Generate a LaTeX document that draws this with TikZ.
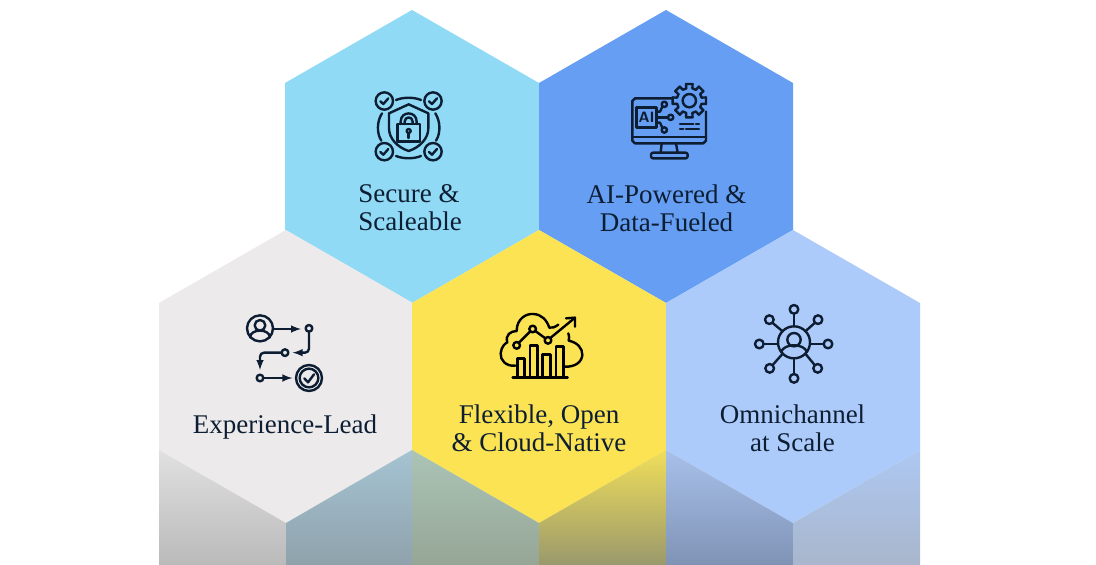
\documentclass[tikz,border=0pt]{standalone}
\usepackage{fontspec}
\setmainfont{Liberation Serif}
\usepackage{tikz}
\definecolor{hexsky}{HTML}{90DAF6}
\definecolor{hexblue}{HTML}{659EF2}
\definecolor{hexgray}{HTML}{ECEAEB}
\definecolor{hexyellow}{HTML}{FBE353}
\definecolor{hexpale}{HTML}{ADCBFA}
\definecolor{inknavy}{HTML}{0D1E33}
\tikzset{
  hexlabel/.style={text=inknavy, align=center, font=\fontsize{27}{28}\selectfont, inner sep=0pt},
  iconline/.style={line width=2.4pt, line cap=round, line join=round},
  tipline/.style={iconline, -latex}
}
\begin{document}
\begin{tikzpicture}[x=1pt, y=-1pt]
  \useasboundingbox (0,0) rectangle (1096,565);
  \fill[white] (0,0) rectangle (1096,565);

  % hexagons
  \foreach \cx/\cy/\col in {412/156.5/hexsky, 666/156.5/hexblue, 286/376.5/hexgray, 539/376.5/hexyellow, 793/376.5/hexpale} {
    \fill[\col] (\cx,\cy-146.5) -- (\cx+127,\cy-73.5) -- (\cx+127,\cy+73.5) -- (\cx,\cy+146.5) -- (\cx-127,\cy+73.5) -- (\cx-127,\cy-73.5) -- cycle;
  }

  % reflection strip
  \shade[top color=black!12, bottom color=black!27] (159,450) -- (286,523) -- (286,565) -- (159,565) -- cycle;
  \shade[top color={rgb,255:red,165;green,195;blue,210}, bottom color={rgb,255:red,143;green,162;blue,172}] (286,523) -- (412,450) -- (412,565) -- (286,565) -- cycle;
  \shade[top color={rgb,255:red,170;green,196;blue,182}, bottom color={rgb,255:red,150;green,166;blue,150}] (412,450) -- (539,523) -- (539,565) -- (412,565) -- cycle;
  \shade[top color={rgb,255:red,240;green,222;blue,90}, bottom color={rgb,255:red,154;green,153;blue,108}] (539,523) -- (666,450) -- (666,565) -- (539,565) -- cycle;
  \shade[top color={rgb,255:red,168;green,192;blue,234}, bottom color={rgb,255:red,127;green,147;blue,181}] (666,450) -- (793,523) -- (793,565) -- (666,565) -- cycle;
  \shade[top color={rgb,255:red,173;green,200;blue,242}, bottom color={rgb,255:red,169;green,182;blue,204}] (793,523) -- (920,450) -- (920,565) -- (793,565) -- cycle;

  % labels
  \node[hexlabel, align=left] (secure) at (410,208) {Secure \&\\Scaleable};
  \node[hexlabel] (aipowered) at (666.5,208) {AI-Powered \&\\Data-Fueled};
  \node[hexlabel] (experience) at (285,427) {Experience-Lead};
  \node[hexlabel] (flexible) at (539,428) {Flexible, Open\\\& Cloud-Native};
  \node[hexlabel] (omni) at (792.5,428) {Omnichannel\\at Scale};

  % lock icon
  \begin{scope}[shift={(340,70)}, scale=1/3, draw=inknavy]
    \foreach \px/\py in {133/93, 279/93, 133/245, 279/245} {
      \draw[iconline] (\px,\py) circle (26);
      \draw[iconline] (\px-12,\py+1) -- (\px-3,\py+9) -- (\px+12,\py-8);
    }
    \draw[iconline] (168,90) .. controls (190,81) and (222,81) .. (243,90);
    \draw[iconline] (168,258) .. controls (190,267) and (222,267) .. (243,258);
    \draw[iconline] (126,130) .. controls (110,155) and (110,190) .. (124,212);
    \draw[iconline] (286,130) .. controls (302,155) and (302,190) .. (288,212);
    \draw[iconline] (206,103) -- (265,130) -- (265,175) .. controls (265,205) and (240,232) .. (206,243) .. controls (172,232) and (147,205) .. (147,175) -- (147,130) -- cycle;
    \draw[iconline] (172,162) rectangle (240,215);
    \draw[iconline] (182,162) -- (182,155) .. controls (182,122) and (230,122) .. (230,155) -- (230,162);
    \draw[iconline] (194,162) -- (194,155) .. controls (194,138) and (218,138) .. (218,155) -- (218,162);
    \draw[iconline] (206,183) circle (6);
    \draw[iconline] (206,189) -- (206,204);
  \end{scope}

  % monitor icon
  \begin{scope}[shift={(610,70)}, scale=1/3, draw=inknavy]
    \draw[iconline] (186,85) -- (75,85) -- (67,93) -- (67,212) -- (75,220) -- (280,220) -- (288,212) -- (288,125);
    \draw[iconline] (67,201) -- (288,201);
    \draw[iconline] (155,220) -- (152,248) (198,220) -- (203,248);
    \draw[iconline, rounded corners=2pt] (123,248) rectangle (233,265);
    \draw[iconline] (80,112) rectangle (140,172);
    \node[text=inknavy, inner sep=0pt, font=\fontsize{15}{15}\selectfont\sffamily\bfseries] (ailabel) at (110,142) {AI};
    \draw[iconline] (140,125) -- (150,125) -- (157,110);
    \draw[iconline] (140,142) -- (174,142);
    \draw[iconline] (140,158) -- (150,158) -- (157,173);
    \draw[iconline] (163,103) circle (8) (182,142) circle (8) (163,180) circle (8);
    \foreach \ang in {0,45,...,315} {
      \draw[iconline] ({238+38*cos(\ang-14)},{92+38*sin(\ang-14)}) -- ({238+51*cos(\ang-11)},{92+51*sin(\ang-11)}) -- ({238+51*cos(\ang+11)},{92+51*sin(\ang+11)}) -- ({238+38*cos(\ang+14)},{92+38*sin(\ang+14)}) -- ({238+38*cos(\ang+31)},{92+38*sin(\ang+31)});
    }
    \draw[iconline] (238,92) circle (20);
    \draw[iconline] (210,162) -- (250,162) (258,162) -- (267,162);
    \draw[iconline] (210,177) -- (220,177) (228,177) -- (267,177);
  \end{scope}

  % journey icon
  \begin{scope}[shift={(230,305)}, scale=1/3, draw=inknavy]
    \draw[iconline] (90,70) circle (39);
    \draw[iconline] (90,61) circle (16);
    \draw[iconline] (60,97) .. controls (62,70) and (118,70) .. (120,97);
    \draw[tipline] (129,72) -- (213,72);
    \draw[iconline] (237,70) circle (10);
    \draw[tipline, rounded corners=4pt] (237,80) -- (237,143) -- (188,143);
    \draw[iconline] (165,143) circle (10);
    \draw[tipline, rounded corners=4pt] (155,143) -- (90,143) -- (90,195);
    \draw[iconline] (90,219) circle (10);
    \draw[tipline] (100,219) -- (187,219);
    \draw[iconline] (237,219) circle (39);
    \draw[iconline] (237,219) circle (28);
    \draw[iconline] (223,220) -- (234,232) -- (252,208);
  \end{scope}

  % cloud icon
  \begin{scope}[shift={(490,305)}, scale=1/3, draw=black]
    \draw[iconline] (68,217) -- (233,217);
    \draw[iconline] (82,217) -- (82,160) -- (103,160) -- (103,217);
    \draw[iconline] (120,217) -- (120,122) -- (143,122) -- (143,217);
    \draw[iconline] (158,217) -- (158,148) -- (181,148) -- (181,217);
    \draw[iconline] (198,217) -- (198,124) -- (220,124) -- (220,217);
    \draw[iconline] (80,121) circle (10) (128,72) circle (10) (174,106) circle (10);
    \draw[iconline] (87,113) -- (121,79) (136,78) -- (166,100) (181,99) -- (255,38);
    \draw[iconline] (228,40) -- (255,38) -- (255,65);
    \draw[iconline] (76,182) .. controls (48,185) and (30,165) .. (32,145) .. controls (34,125) and (45,115) .. (52,112) .. controls (45,90) and (62,78) .. (80,78) .. controls (80,40) and (110,25) .. (130,27) .. controls (155,28) and (170,45) .. (178,68) .. controls (188,70) and (195,66) .. (205,59);
    \draw[iconline] (235,85) .. controls (238,92) and (238,100) .. (236,107) .. controls (262,112) and (278,130) .. (277,150) .. controls (275,172) and (255,186) .. (225,185);
  \end{scope}

  % network icon
  \begin{scope}[shift={(745,298)}, scale=1/3, draw=inknavy]
    \draw[iconline] (147,133) circle (48);
    \draw[iconline] (147,125) circle (20);
    \draw[iconline] (108,162) .. controls (118,135) and (176,135) .. (186,162);
    \foreach \px/\py/\sx/\sy/\ex/\ey in {147/34/147/47/147/85, 73/65/83/75/113/100, 219/65/209/75/181/100, 43/138/56/138/99/138, 249/138/236/138/195/138, 74/211/83/201/113/167, 218/211/209/201/181/167, 147/241/147/228/147/181} {
      \draw[iconline] (\px,\py) circle (13);
      \draw[iconline] (\sx,\sy) -- (\ex,\ey);
    }
  \end{scope}
\end{tikzpicture}
\end{document}
